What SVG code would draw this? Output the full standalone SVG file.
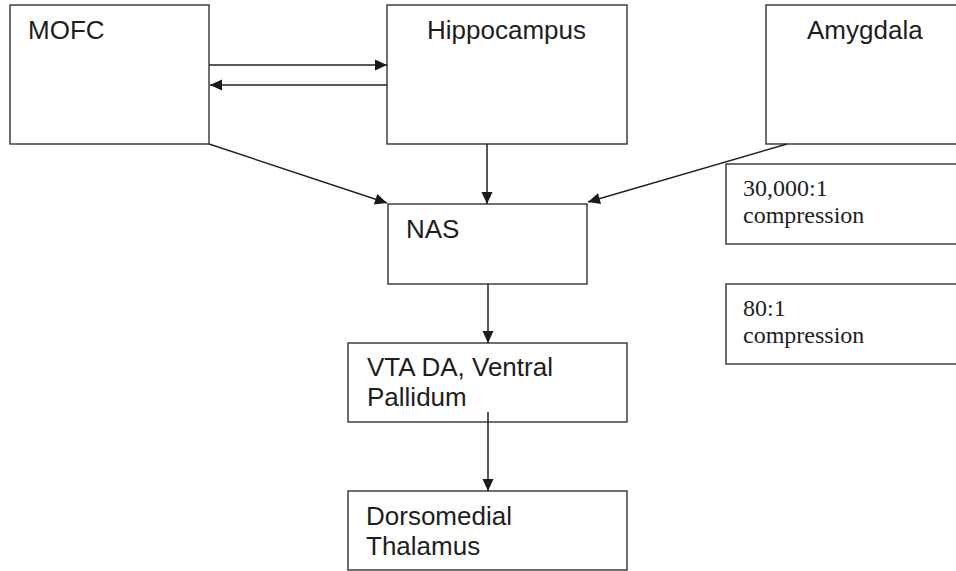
<svg xmlns="http://www.w3.org/2000/svg" width="956" height="571" viewBox="0 0 956 571">
  <style>
    .box { fill: #ffffff; stroke: #333333; stroke-width: 1.4; }
    .sans { font-family: "Liberation Sans", Arial, sans-serif; font-size: 26px; fill: #1e1e1e; }
    .serif { font-family: "Liberation Serif", "Times New Roman", serif; font-size: 24px; fill: #1e1e1e; }
    .edge { fill: none; stroke: #222222; stroke-width: 1.5; marker-end: url(#arrow); }
  </style>
  <defs>
    <marker id="arrow" markerUnits="userSpaceOnUse" markerWidth="14" markerHeight="12" viewBox="0 0 14 12" refX="13" refY="6" orient="auto">
      <path d="M1,0.5 L13,6 L1,11.5 Z" fill="#1a1a1a"/>
    </marker>
  </defs>
  <rect width="956" height="571" fill="#ffffff"/>

  <g id="mofc">
    <rect class="box" x="10" y="5" width="199" height="139"/>
    <text class="sans" x="28" y="39">MOFC</text>
  </g>

  <g id="hippocampus">
    <rect class="box" x="387" y="5" width="240" height="139"/>
    <text class="sans" x="427" y="39">Hippocampus</text>
  </g>

  <g id="amygdala">
    <rect class="box" x="766" y="5" width="200" height="139"/>
    <text class="sans" x="807" y="39">Amygdala</text>
  </g>

  <g id="nas">
    <rect class="box" x="388" y="204" width="199" height="80"/>
    <text class="sans" x="406" y="238">NAS</text>
  </g>

  <g id="vta">
    <rect class="box" x="348" y="343" width="279" height="79"/>
    <text class="sans" x="367" y="376">VTA DA, Ventral</text>
    <text class="sans" x="367" y="406">Pallidum</text>
  </g>

  <g id="thalamus">
    <rect class="box" x="348" y="491" width="279" height="79"/>
    <text class="sans" x="366" y="525">Dorsomedial</text>
    <text class="sans" x="366" y="555">Thalamus</text>
  </g>

  <g id="compression-30000">
    <rect class="box" x="726" y="164" width="240" height="80"/>
    <text class="serif" x="743" y="196">30,000:1</text>
    <text class="serif" x="743" y="223">compression</text>
  </g>

  <g id="compression-80">
    <rect class="box" x="726" y="284" width="240" height="80"/>
    <text class="serif" x="743" y="316">80:1</text>
    <text class="serif" x="743" y="343">compression</text>
  </g>

  <g id="connectors">
    <line class="edge" x1="209" y1="65" x2="387" y2="65"/>
    <line class="edge" x1="387" y1="85" x2="210" y2="85"/>
    <line class="edge" x1="209" y1="144" x2="387" y2="203"/>
    <line class="edge" x1="487" y1="144" x2="487" y2="204"/>
    <line class="edge" x1="787" y1="144" x2="588" y2="202"/>
    <line class="edge" x1="488" y1="284" x2="488" y2="343"/>
    <line class="edge" x1="488" y1="412" x2="488" y2="491"/>
  </g>
</svg>
